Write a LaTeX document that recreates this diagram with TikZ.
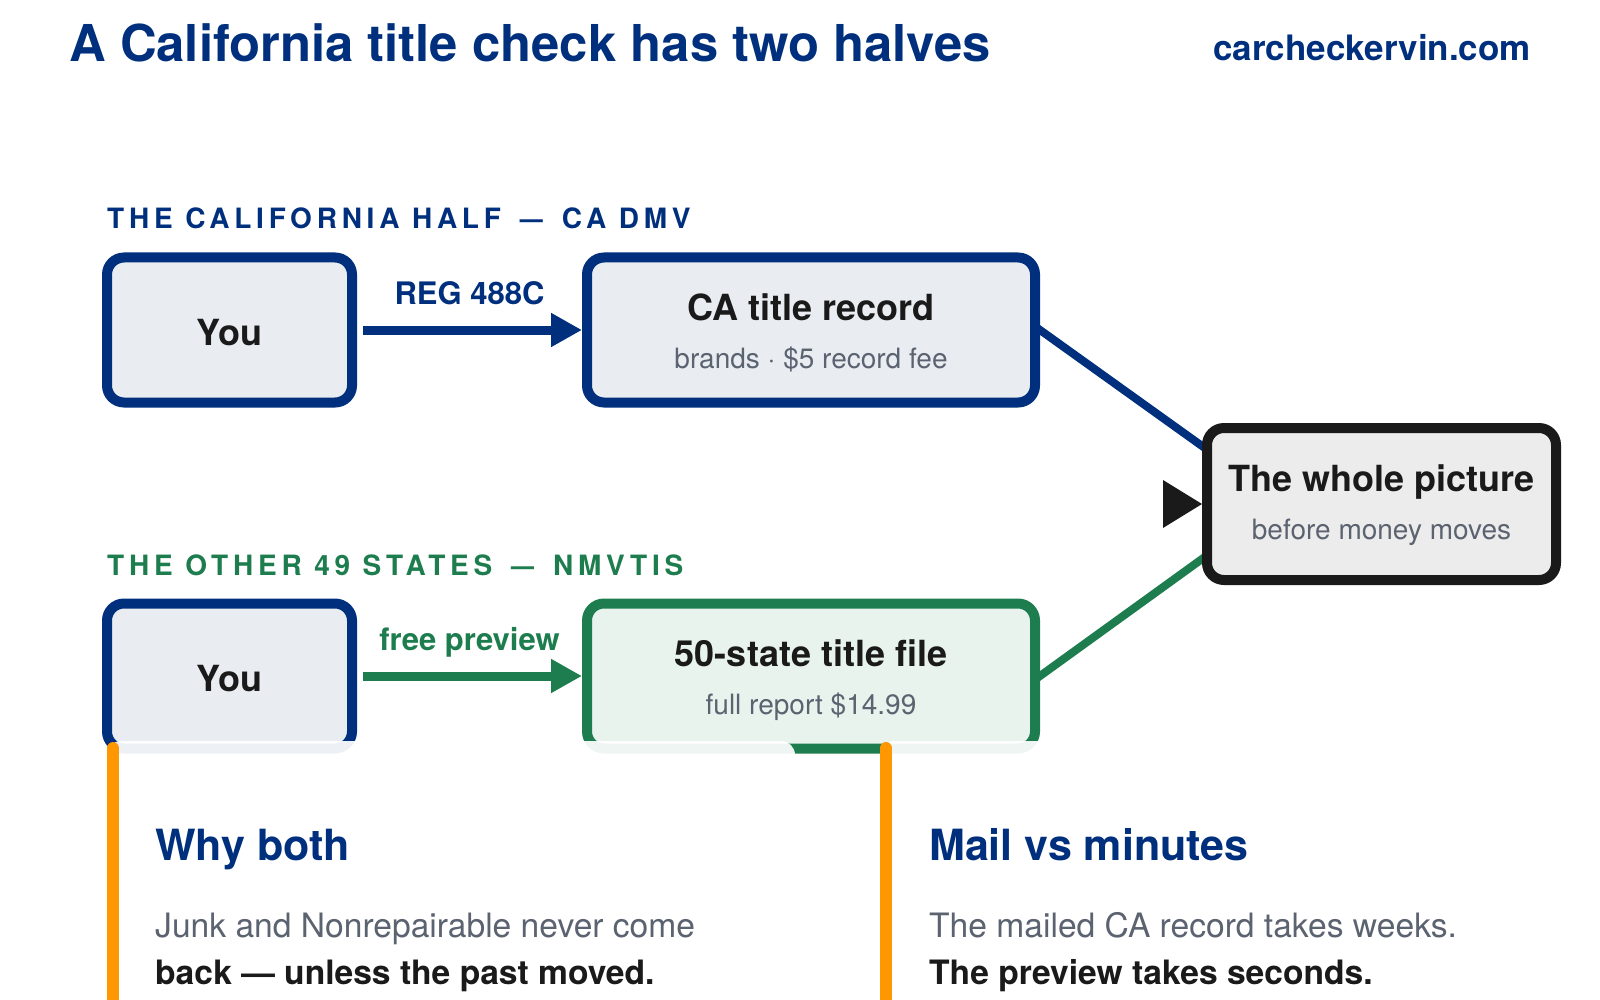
\documentclass[tikz,border=0pt]{standalone}
\usepackage{fontspec}
\setmainfont{TeX Gyre Heros}
\newfontfamily\trackfont[LetterSpace=17]{TeX Gyre Heros}
\usepackage{tikz}
\usetikzlibrary{arrows.meta,calc,positioning,backgrounds}
\definecolor{navy}{RGB}{0,48,125}
\definecolor{dmvgreen}{RGB}{29,125,78}
\definecolor{boxblue}{RGB}{233,237,242}
\definecolor{boxgreen}{RGB}{232,243,237}
\definecolor{boxgray}{RGB}{236,236,236}
\definecolor{ink}{RGB}{26,26,26}
\definecolor{subgray}{RGB}{91,98,112}
\definecolor{orangebar}{RGB}{255,152,0}

\newcommand{\subline}[1]{{\fontsize{28}{34}\selectfont\mdseries\color{subgray}#1}}
\newcommand{\lbldash}{\hspace{19pt}\scalebox{0.82}[1]{—}\hspace{19pt}}

\begin{document}
\begin{tikzpicture}[
      x=1pt, y=-1pt,
      flow/.style={draw, line width=10pt, rounded corners=17pt, minimum width=245pt, minimum height=145pt,
                   inner sep=0pt, align=center, text=ink, font=\fontsize{36}{42}\selectfont\bfseries},
      flowYou/.style={flow, draw=navy, fill=boxblue, text height=30pt, text depth=0pt},
      flowTwo/.style={flow, text height=76pt, text depth=0pt},
      flowCA/.style={flowTwo, draw=navy, fill=boxblue, minimum width=448pt},
      flowFile/.style={flowTwo, draw=dmvgreen, fill=boxgreen, minimum width=448pt},
      flowAll/.style={flowTwo, draw=ink, fill=boxgray, minimum width=349pt, minimum height=152pt, text height=70pt},
      sectionLbl/.style={anchor=base west, inner sep=0pt, font=\fontsize{28}{32}\trackfont\bfseries},
      hopLbl/.style={inner sep=0pt, text depth=0pt, font=\fontsize{31}{36}\selectfont\bfseries},
      hop/.style={->, line width=9pt, shorten <=6pt},
      card/.style={fill=white, fill opacity=0.93, rounded corners=14pt},
      cardBar/.style={orangebar, line width=12pt, line cap=round},
      cardHead/.style={anchor=base west, inner sep=0pt, text=navy, font=\fontsize{43}{50}\selectfont\bfseries},
      cardBody/.style={anchor=base west, inner sep=0pt, text=subgray, font=\fontsize{33.6}{40}\selectfont},
      cardBold/.style={cardBody, text=ink, font=\fontsize{33.6}{40}\selectfont\bfseries}
    ]

    \tikzset{>={Triangle[length=31pt,width=32pt]}}

    \useasboundingbox (0,0) rectangle (1600,1000);

    % -------- HEADER --------
    \node[anchor=base west, inner sep=0pt, text=navy, font=\fontsize{50.8}{60}\selectfont\bfseries]
      (headline) at (69,62) {A California title check has two halves};
    \node[anchor=base east, inner sep=0pt, text=navy, font=\fontsize{35}{40}\selectfont\bfseries]
      (site) at (1531,61) {carcheckervin.com};

    % -------- CALIFORNIA HALF --------
    \node[sectionLbl, text=navy] (calLbl) at (107,229) {THE CALIFORNIA HALF\lbldash CA DMV};

    \node[flowYou] (youA) at (229.5,330) {You};
    \node[flowCA] (carec) at (811,330) {CA title record\\[6pt]\subline{brands · \$5 record fee}};

    \draw[hop, navy] (youA) -- (carec) node[midway, above=21pt, hopLbl, text=navy] (regLbl) {REG 488C};

    % -------- OTHER 49 STATES --------
    \node[sectionLbl, text=dmvgreen] (nmvLbl) at (107,575) {THE OTHER 49 STATES\lbldash NMVTIS};

    \node[flowYou] (youB) at (229.5,676) {You};
    \node[flowFile] (file) at (811,676) {50-state title file\\[6pt]\subline{full report \$14.99}};

    \draw[hop, dmvgreen] (youB) -- (file) node[midway, above=21pt, hopLbl, text=dmvgreen] (prevLbl) {free preview};

    % -------- BOTH HALVES MEET --------
    \node[flowAll] (whole) at (1381.5,504) {The whole picture\\[6pt]\subline{before money moves}};

    \coordinate (wholeTop) at ([yshift=58pt]whole.west);
    \coordinate (wholeBot) at ([yshift=-55pt]whole.west);

    \begin{scope}[on background layer]
      \draw[navy, line width=8pt] ($(carec.east)!-8pt!(wholeTop)$) -- ($(wholeTop)!-8pt!(carec.east)$);
      \draw[dmvgreen, line width=8pt] ($(file.east)!-8pt!(wholeBot)$) -- ($(wholeBot)!-8pt!(file.east)$);
    \end{scope}

    % arrowhead into the result box
    \fill[ink] (whole.west) -- ++(-39,-24) -- ++(0,48) -- cycle;

    % -------- NOTE CARDS --------
    \fill[card] (107,741) rectangle (795,1030);
    \draw[cardBar] (113,748) -- (113,1030);
    \node[cardHead] (whyHead) at (155,860) {Why both};
    \node[cardBody] (whyBody) at (155,937) {Junk and Nonrepairable never come};
    \node[cardBold] (whyBold) at (155,984) {back — unless the past moved.};

    \fill[card] (880,741) rectangle (1561,1030);
    \draw[cardBar] (886,748) -- (886,1030);
    \node[cardHead] (mailHead) at (929,860) {Mail vs minutes};
    \node[cardBody] (mailBody) at (929,937) {The mailed CA record takes weeks.};
    \node[cardBold] (mailBold) at (929,984) {The preview takes seconds.};

\end{tikzpicture}
\end{document}
